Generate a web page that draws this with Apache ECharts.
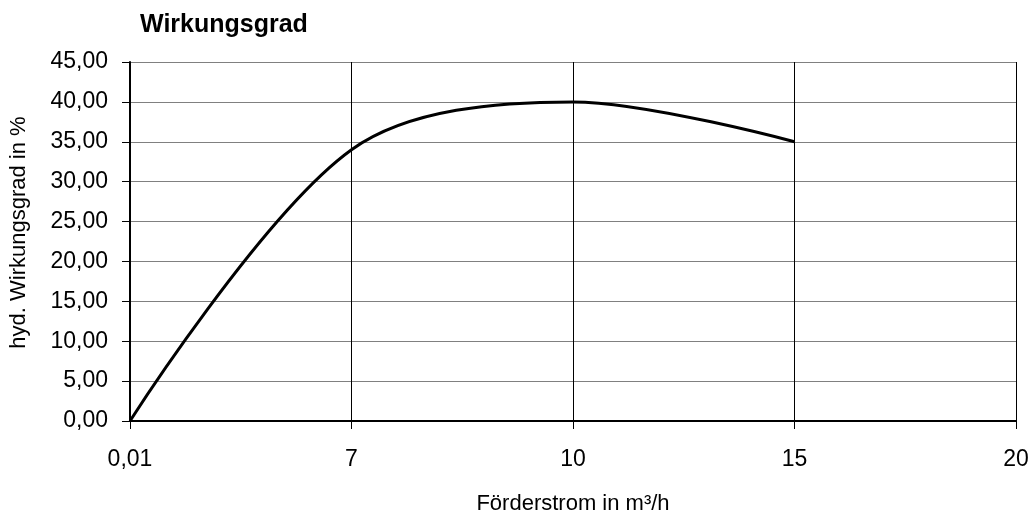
<!DOCTYPE html>
<html>
<head>
<meta charset="utf-8">
<script src="https://cdn.jsdelivr.net/npm/echarts@6/dist/echarts.min.js"></script>
<style>
html, body { margin: 0; padding: 0; background: #fff; }
#container { width: 1032px; height: 515px; }
</style>
</head>
<body>
<div id="container"></div>
<script>
// Förderstrom (Kategorien) und hyd. Wirkungsgrad
var foerderstrom = ['0,01', '7', '10', '15', '20'];
var wirkungsgrad = [0, 34, 40, 35, null];

var dom = document.getElementById("container");
var myChart = echarts.init(dom);
var option = null;

var fnt = 'Liberation Sans, Arial, sans-serif';

option = {
    animation: false,
    title: {
        text: 'Wirkungsgrad',
        left: 135,
        top: 8,
        textStyle: { fontFamily: fnt, fontSize: 25, fontWeight: 'bold', color: '#000' }
    },
    grid: { left: 130, right: 16, top: 62, bottom: 94, containLabel: false, outerBoundsMode: 'none' },
    xAxis: {
        type: 'category',
        data: foerderstrom,
        boundaryGap: false,
        name: 'Förderstrom in m³/h',
        nameLocation: 'middle',
        nameGap: 72,
        nameTextStyle: { fontFamily: fnt, fontSize: 22, color: '#000' },
        axisLine: { lineStyle: { color: '#000', width: 2 } },
        axisTick: { alignWithLabel: true, length: 8, lineStyle: { color: '#000', width: 1 } },
        axisLabel: { margin: 27, fontFamily: fnt, fontSize: 23, color: '#000', interval: 0 },
        splitLine: { show: true, lineStyle: { color: '#000', width: 1 } }
    },
    yAxis: {
        type: 'value',
        min: 0,
        max: 45,
        interval: 5,
        name: 'hyd. Wirkungsgrad in %',
        nameLocation: 'middle',
        nameGap: 100,
        nameTextStyle: { fontFamily: fnt, fontSize: 22, color: '#000', padding: [0, 0, 0, 18] },
        axisLine: { show: true, lineStyle: { color: '#000', width: 2 } },
        axisTick: { show: true, length: 8, lineStyle: { color: '#000', width: 1 } },
        axisLabel: {
            margin: 22, fontFamily: fnt, fontSize: 23, color: '#000',
            formatter: function (v) { return v.toFixed(2).replace('.', ','); }
        },
        splitLine: { show: true, lineStyle: { color: '#808080', width: 1 } }
    },
    series: [{
        type: 'line',
        data: wirkungsgrad,
        smooth: 0.33,
        showSymbol: false,
        lineStyle: { color: '#000', width: 3 }
    }]
};

if (option && typeof option === "object") {
    myChart.setOption(option, true);
}
</script>
</body>
</html>
